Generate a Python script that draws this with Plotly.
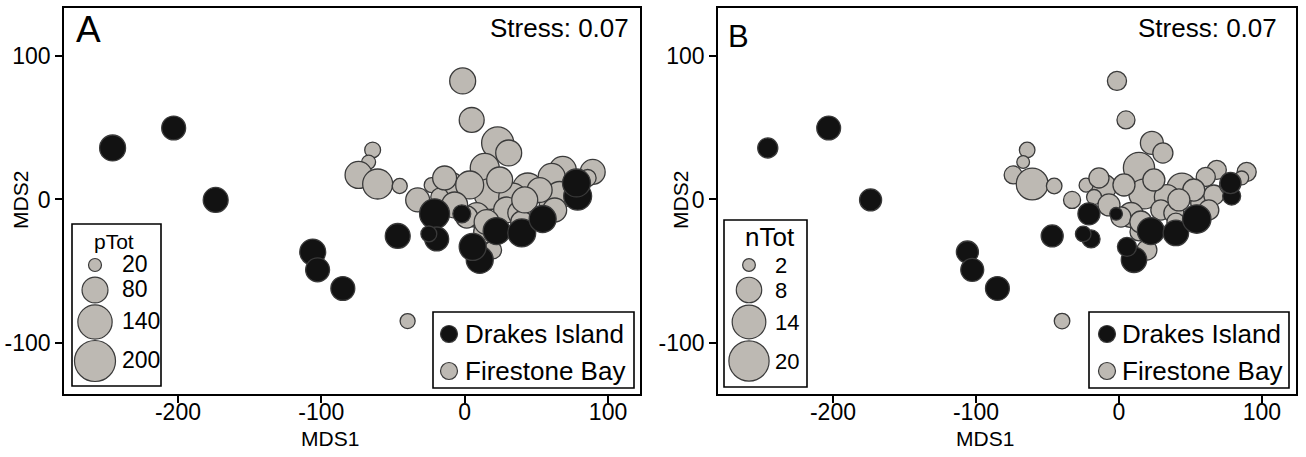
import numpy as np
import plotly.graph_objects as go

W, H = 1306, 457
FONT = "Liberation Sans, Arial, sans-serif"

# ---------------- data (shared MDS coordinates) ----------------
drakes_x = [-245.6, -203.0, -173.7, -106.0, -102.6, -85.0, -46.7, -21.0, -2.0,
            -19.5, -25.0, 10.5, 5.6, 22.3, 39.8, 54.4, 78.8, 78.0]
drakes_y = [35.9, 49.8, -0.3, -36.6, -49.0, -62.0, -25.4, -10.0, -10.0,
            -27.5, -24.0, -42.0, -33.0, -22.0, -23.3, -13.6, 2.4, 11.5]
drakes_pTot = [80, 68, 74, 80, 68, 68, 74, 107, 38, 68, 30, 87, 87, 87, 93, 87, 93, 93]
drakes_nTot = [5, 7, 6, 6, 6.5, 7, 6, 6, 2, 4, 3, 8, 4.5, 9, 8, 10, 4, 5.5]

fire_x = [-1.4, 4.9, -64.2, -67.0, -74.0, -60.7, -45.3, 23.0, 30.7, 14.0,
          89.3, 85.8, 68.4, 60.7, 44.0, 17.4, -10.5, -23.0, -32.8, -17.4,
          57.2, 66.3, -39.8, 33.5, 8.4, 1.4, 29.3, 38.4, 19.5, -14.0,
          24.4, 3.5, 52.3, 39.8, 62.8, -7.0, 14.0, 41.9, 76.7, 15.3]
fire_y = [82.6, 55.4, 34.5, 26.1, 17.1, 10.8, 9.4, 39.4, 32.4, 22.0,
          19.2, 15.0, 20.6, 15.7, 8.0, 3.8, 8.7, 10.0, -0.3, 1.7,
          -2.4, 3.1, -84.7, 1.7, -10.8, -12.2, -7.3, -9.4, -35.2, 15.0,
          13.6, 10.1, 6.6, -15.7, -7.3, -3.8, -22.6, -0.3, 9.8, -15.7]
fire_pTot = [80, 74, 30, 23, 87, 107, 27, 122, 80, 100,
             74, 34, 87, 87, 107, 114, 107, 27, 68, 38,
             27, 87, 27, 93, 74, 58, 80, 68, 38, 68,
             80, 93, 74, 58, 68, 80, 58, 80, 58, 74]
fire_nTot = [4.5, 4, 3, 2, 4, 12.5, 3, 6.5, 5, 12,
             4.5, 2.4, 4.5, 4.5, 11, 11, 7.7, 2.4, 3.6, 2.8,
             5, 5, 3, 7.7, 7.7, 5, 5, 5, 5, 5,
             6, 6, 6, 4, 5, 6, 4, 6, 4, 6]

site_names = ["Drakes Island", "Firestone Bay"]
p_legend_vals = [20, 80, 140, 200]
n_legend_vals = [2, 8, 14, 20]
x_tickvals = [-200, -100, 0, 100]
y_tickvals = [-100, 0, 100]
stress_text = "Stress: 0.07"

# ---------------- styling ----------------
BLACK_FILL = "#121212"
GREY_FILL = "#bdb9b3"
EDGE = "#3a3a3a"
P_SCALE = 2.9   # diameter px per sqrt(pTot)
N_SCALE = 9.0   # diameter px per sqrt(nTot)


def dia(vals, k):
    return [k * np.sqrt(v) for v in vals]


fig = go.Figure()

panels = [
    dict(xa="x", ya="y", sizes_d=drakes_pTot, sizes_f=fire_pTot, k=P_SCALE),
    dict(xa="x2", ya="y2", sizes_d=drakes_nTot, sizes_f=fire_nTot, k=N_SCALE),
]
for p in panels:
    fig.add_trace(go.Scatter(
        x=fire_x, y=fire_y, mode="markers", name=site_names[1], showlegend=False,
        xaxis=p["xa"], yaxis=p["ya"],
        marker=dict(size=dia(p["sizes_f"], p["k"]), color=GREY_FILL,
                    line=dict(color=EDGE, width=1.3), opacity=1)))
    fig.add_trace(go.Scatter(
        x=drakes_x, y=drakes_y, mode="markers", name=site_names[0], showlegend=False,
        xaxis=p["xa"], yaxis=p["ya"],
        marker=dict(size=dia(p["sizes_d"], p["k"]), color=BLACK_FILL,
                    line=dict(color=EDGE, width=1.3), opacity=1)))

ax_common = dict(showline=True, mirror=True, linecolor="black", linewidth=1.6,
                 ticks="outside", ticklen=7, tickwidth=1.5, tickcolor="black",
                 showgrid=False, zeroline=False,
                 tickfont=dict(family=FONT, size=23, color="black"))
xt = dict(tickvals=x_tickvals, ticktext=[str(v) for v in x_tickvals], ticklabelstandoff=-10)
yt = dict(tickvals=y_tickvals, ticktext=[str(v) for v in y_tickvals])

ydom = [1 - 394 / H, 1 - 8 / H]
fig.update_layout(
    width=W, height=H, margin=dict(l=0, r=0, t=0, b=0),
    paper_bgcolor="white", plot_bgcolor="white", showlegend=False,
    xaxis=dict(domain=[64 / W, 640 / W], range=[-279.5, 122.3], anchor="y", **xt, **ax_common),
    yaxis=dict(domain=ydom, range=[-135.5, 133.4], anchor="x", **yt, **ax_common),
    xaxis2=dict(domain=[718 / W, 1296 / W], range=[-280.4, 123.8], anchor="y2", **xt, **ax_common),
    yaxis2=dict(domain=ydom, range=[-135.5, 133.4], anchor="x2", **yt, **ax_common),
)

shapes = []
annots = []


def px(xp):
    return xp / W


def py(yp):
    return 1 - yp / H


def text(xp, yp, s, size, xanchor="left", yanchor="middle", angle=0):
    annots.append(dict(x=px(xp), y=py(yp), xref="paper", yref="paper", text=s,
                       showarrow=False, xanchor=xanchor, yanchor=yanchor, textangle=angle,
                       font=dict(family=FONT, size=size, color="black")))


def rect(x0, y0, x1, y1):
    shapes.append(dict(type="rect", xref="paper", yref="paper", x0=px(x0), x1=px(x1),
                       y0=py(y1), y1=py(y0), line=dict(color="black", width=1.6),
                       fillcolor="white", layer="above"))


def dot(xc, yc, d, fill):
    shapes.append(dict(type="circle", xref="paper", yref="paper",
                       xsizemode="pixel", ysizemode="pixel",
                       xanchor=px(xc), yanchor=py(yc),
                       x0=-d / 2, x1=d / 2, y0=-d / 2, y1=d / 2,
                       fillcolor=fill, line=dict(color=EDGE, width=1.2), layer="above"))


# panel letters, stress, axis titles
text(74, 29, "A", 37)
text(726, 36, "B", 31)
text(631, 28, stress_text, 26, xanchor="right")
text(1279, 28, stress_text, 26, xanchor="right")
text(330, 438, "MDS1", 21, xanchor="center")
text(985, 438, "MDS1", 21, xanchor="center")
text(20, 200, "MDS2", 21, xanchor="center", angle=-90)
text(680, 200, "MDS2", 21, xanchor="center", angle=-90)

# site legends
for (bx0, bx1, mx, tx) in [(433, 634, 449, 463), (1089, 1289, 1107, 1120)]:
    rect(bx0, 312, bx1, 388)
    for i, (nm, fill) in enumerate(zip(site_names, [BLACK_FILL, GREY_FILL])):
        yc = 334 + 37 * i
        dot(mx, yc, 17, fill)
        text(tx, yc, nm, 26)

# size legends
rows_y = [265, 290, 322, 361]
rect(72, 224, 161, 386)
text(114, 241, "pTot", 21, xanchor="center")
for v, yc in zip(p_legend_vals, rows_y):
    dot(95, yc, P_SCALE * np.sqrt(v), GREY_FILL)
    text(120, yc - 1, str(v), 23)

rect(724, 220, 807, 387)
text(770, 237, "nTot", 26, xanchor="center")
for v, yc in zip(n_legend_vals, rows_y):
    dot(749, yc, N_SCALE * np.sqrt(v), GREY_FILL)
    text(773, yc, str(v), 22)

fig.update_layout(shapes=shapes, annotations=annots)
fig.write_html("out.html")
